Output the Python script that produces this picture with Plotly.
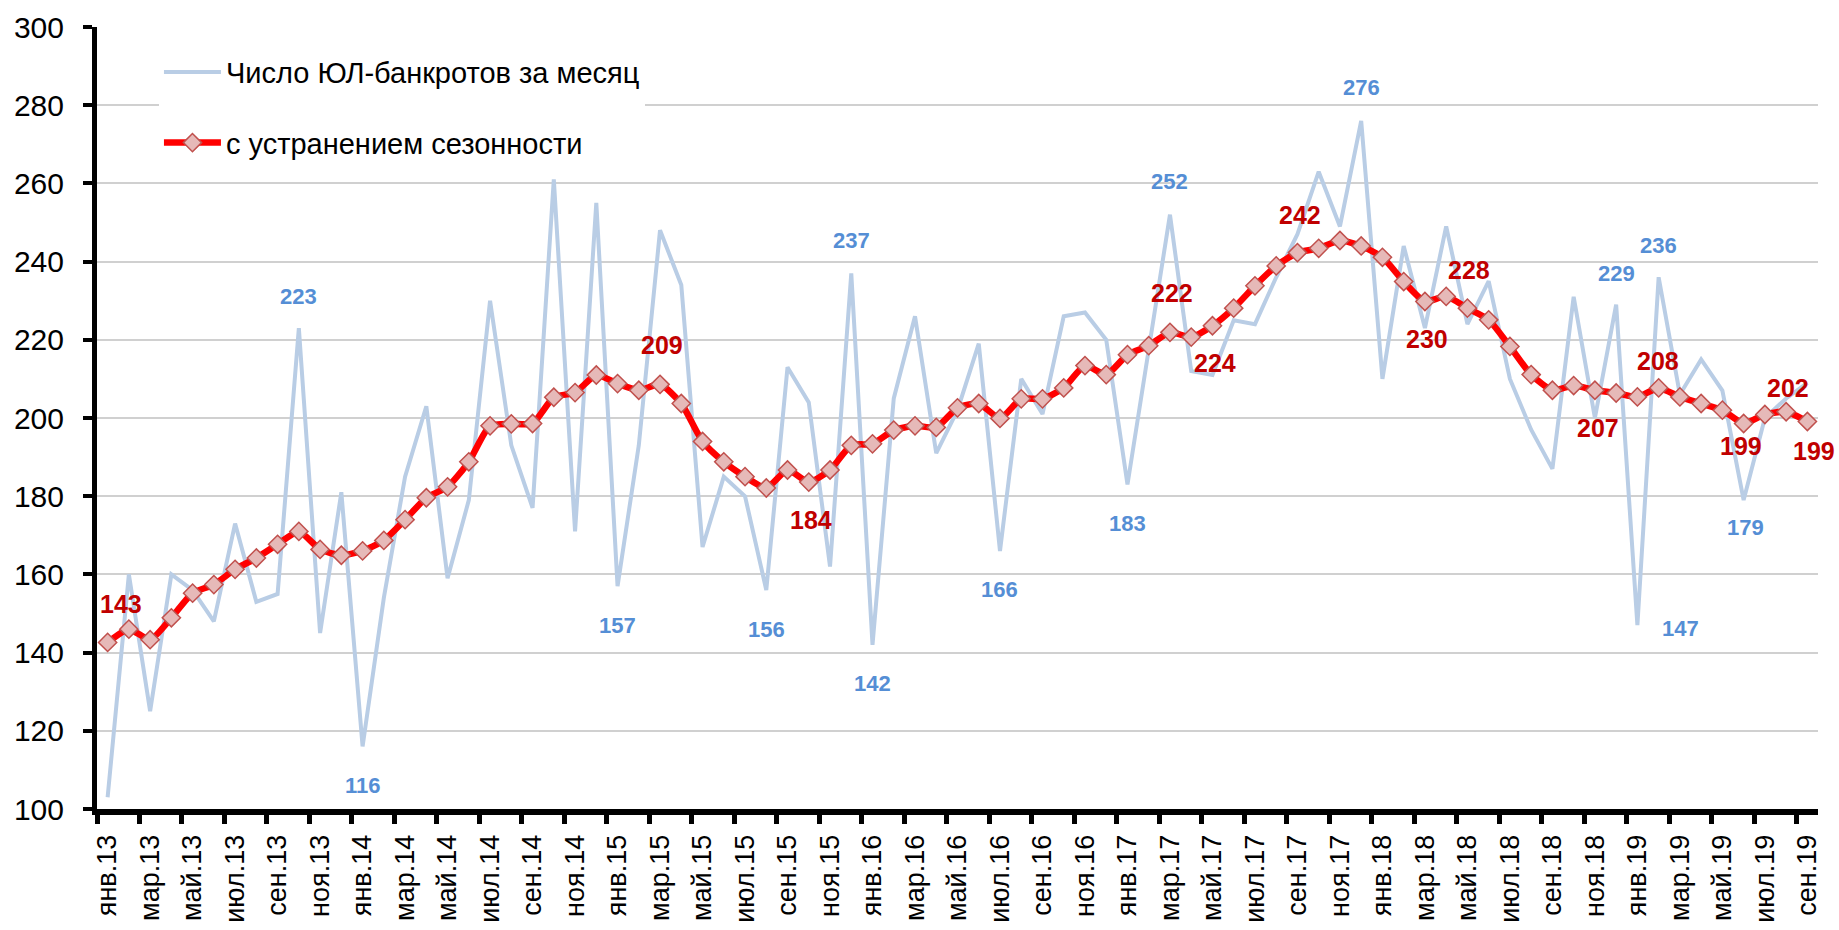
import plotly.graph_objects as go

# ---- data ----
months = ["янв", "фев", "мар", "апр", "май", "июн", "июл", "авг", "сен", "окт", "ноя", "дек"]
years = ["13", "14", "15", "16", "17", "18", "19"]
categories = [f"{m}.{y}" for y in years for m in months][:81]  # янв.13 .. сен.19

raw_monthly = [
    103, 160, 125, 160, 156, 148, 173, 153, 155, 223, 145, 181,   # 2013
    116, 154, 185, 203, 159, 179, 230, 193, 177, 261, 171, 255,   # 2014
    157, 193, 248, 234, 167, 185, 180, 156, 213, 204, 162, 237,   # 2015
    142, 205, 226, 191, 202, 219, 166, 210, 201, 226, 227, 220,   # 2016
    183, 218, 252, 212, 211, 225, 224, 236, 247, 263, 249, 276,   # 2017
    210, 244, 223, 249, 224, 235, 210, 197, 187, 231, 200, 229,   # 2018
    147, 236, 206, 215, 207, 179, 200, 205, 209,                  # 2019
]

seasonally_adjusted = [
    142.6, 146.0, 143.3, 148.9, 155.2, 157.4, 161.3, 164.2, 167.7, 171.0, 166.4, 164.9,
    166.0, 168.7, 174.0, 179.6, 182.4, 188.8, 198.0, 198.5, 198.6, 205.3, 206.5, 211.0,
    208.8, 207.1, 208.6, 203.7, 194.0, 188.8, 185.0, 182.1, 186.7, 183.6, 186.7, 193.0,
    193.4, 196.9, 198.0, 197.6, 202.6, 203.7, 199.9, 204.9, 204.9, 207.7, 213.4, 211.1,
    216.2, 218.5, 221.9, 220.7, 223.6, 228.1, 233.8, 238.9, 242.3, 243.4, 245.4, 244.0,
    241.1, 234.9, 229.8, 231.1, 228.1, 225.1, 218.3, 211.1, 207.1, 208.3, 207.1, 206.4,
    205.4, 207.7, 205.4, 203.7, 202.0, 198.6, 200.9, 201.6, 199.1,
]

# indices of points that carry a value label
raw_label_idx = [9, 12, 24, 31, 35, 36, 42, 48, 50, 59, 71, 72, 73, 77]
sa_label_idx = [0, 26, 33, 50, 52, 56, 62, 64, 70, 73, 77, 79, 80]

name_raw = "Число ЮЛ-банкротов за месяц"
name_sa = "с устранением сезонности"

# ---- label placement (pixel offsets: dx, dy) ----
raw_offsets = {9: (0, 32), 12: (0, -39), 24: (0, -39), 31: (0, -39), 35: (0, 33),
               36: (0, -39), 42: (0, -39), 48: (0, -39), 50: (0, 33), 59: (0, 33),
               71: (0, 31), 72: (43, -3), 73: (0, 32), 77: (2, -27)}
sa_offsets = {0: (13, 38), 26: (2, 39), 33: (2, -38), 50: (2, 39), 52: (3, -37),
              56: (3, 38), 62: (2, -38), 64: (2, 38), 70: (3, -38), 73: (-1, 27),
              77: (-3, -23), 79: (2, 24), 80: (7, -29)}

FONT = "Liberation Sans, Arial, sans-serif"

fig = go.Figure()
fig.add_trace(go.Scatter(
    x=categories, y=raw_monthly, mode="lines", name=name_raw,
    line=dict(color="#B9CDE5", width=4), legendgroup="g1",
    hoverinfo="x+y",
))
fig.add_trace(go.Scatter(
    x=categories, y=seasonally_adjusted, mode="lines+markers", name=name_sa,
    line=dict(color="#FF0000", width=6.5, shape="spline", smoothing=0.6),
    marker=dict(symbol="diamond", size=14, color="#E6B9B8",
                line=dict(color="#C0504D", width=1.5)),
    legendgroup="g2", hoverinfo="x+y",
))

annotations = []
for i in raw_label_idx:
    dx, dy = raw_offsets[i]
    annotations.append(dict(
        x=categories[i], y=raw_monthly[i], xref="x", yref="y",
        text=f"{round(raw_monthly[i])}", showarrow=False,
        xshift=dx, yshift=dy,
        font=dict(family=FONT, size=22, color="#558ED5", weight="bold"),
    ))
for i in sa_label_idx:
    dx, dy = sa_offsets[i]
    annotations.append(dict(
        x=categories[i], y=seasonally_adjusted[i], xref="x", yref="y",
        text=f"{round(seasonally_adjusted[i])}", showarrow=False,
        xshift=dx, yshift=dy,
        font=dict(family=FONT, size=25, color="#C00000", weight="bold"),
    ))

fig.update_layout(
    width=1839, height=930,
    margin=dict(l=97, r=21, t=27, b=121),
    paper_bgcolor="white", plot_bgcolor="white",
    font=dict(family=FONT, color="black"),
    showlegend=True,
    legend=dict(
        x=0.036, y=0.975, xanchor="left", yanchor="top",
        bgcolor="white", borderwidth=0,
        font=dict(family=FONT, size=29, color="black"),
        tracegroupgap=30, itemwidth=57,
    ),
    annotations=annotations,
    xaxis=dict(
        type="category", tickmode="linear", tick0=0, dtick=2,
        tickson="boundaries", ticks="outside", ticklen=9, tickwidth=5,
        tickcolor="black", showline=True, linecolor="black", linewidth=6,
        showgrid=False, tickangle=-90, range=[-0.5, 80.5],
        tickfont=dict(family=FONT, size=27, color="black"),
        ticklabelstandoff=9, zeroline=False, automargin=False,
    ),
    yaxis=dict(
        range=[100, 300], dtick=20, tick0=100,
        ticks="outside", ticklen=9, tickwidth=4, tickcolor="black",
        showline=True, linecolor="black", linewidth=5,
        showgrid=True, gridcolor="#D0D0D0", gridwidth=2,
        tickfont=dict(family=FONT, size=30, color="black"),
        ticklabelstandoff=13, zeroline=False, automargin=False,
    ),
)

fig.write_html(
    "out.html",
    config={"displayModeBar": False},
    post_script="document.body.style.margin='0px';",
)
